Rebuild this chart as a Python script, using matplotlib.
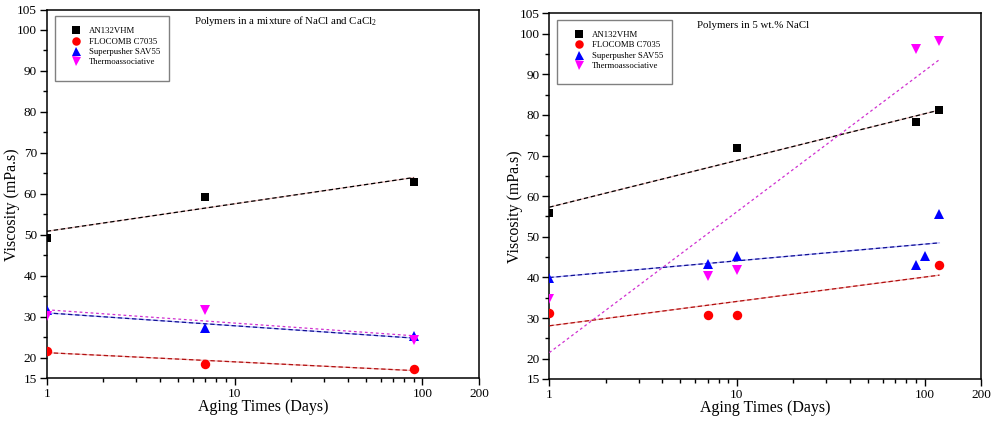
import numpy as np
import matplotlib
matplotlib.use("Agg")
import matplotlib.pyplot as plt
from matplotlib.patches import Rectangle
from matplotlib.lines import Line2D

plt.rcParams['font.family'] = ['Liberation Serif', 'DejaVu Serif']
plt.rcParams['mathtext.fontset'] = 'custom'
plt.rcParams['mathtext.rm'] = 'Liberation Serif'
plt.rcParams['mathtext.it'] = 'Liberation Serif:italic'

# ---------------- data ----------------
series_names = ["AN132VHM", "FLOCOMB C7035", "Superpusher SAV55", "Thermoassociative"]

# Left panel: polymers in a mixture of NaCl and CaCl2
left_an_x = [1, 7, 90]
left_an_y = [49.3, 59.2, 62.8]
left_floc_x = [1, 7, 90]
left_floc_y = [21.7, 18.4, 17.2]
left_sav_x = [1, 7, 90]
left_sav_y = [31.5, 27.2, 25.2]
left_thermo_x = [1, 7, 90]
left_thermo_y = [30.2, 31.5, 24.2]

# Right panel: polymers in 5 wt.% NaCl
right_an_x = [1, 10, 90, 120]
right_an_y = [55.8, 71.8, 78.3, 81.1]
right_floc_x = [1, 7, 10, 120]
right_floc_y = [31.2, 30.8, 30.8, 43.1]
right_sav_x = [1, 7, 10, 90, 100, 120]
right_sav_y = [39.9, 43.2, 45.3, 43.0, 45.3, 55.5]
right_thermo_x = [1, 7, 10, 90, 120]
right_thermo_y = [34.7, 40.4, 41.8, 96.2, 98.2]

y_major_ticks = [15, 20, 30, 40, 50, 60, 70, 80, 90, 100, 105]
y_minor_ticks = [25, 35, 45, 55, 65, 75, 85, 95]
x_major_ticks = [1, 10, 100, 200]
x_tick_labels = ["1", "10", "100", "200"]

titles = ["Polymers in a mixture of NaCl and CaCl$_\\mathrm{2}$", "Polymers in 5 wt.% NaCl"]

# ---------------- styles ----------------
marker_styles = [
    dict(marker='s', color='#000000', ms=6.2),
    dict(marker='o', color='#ff0000', ms=6.8),
    dict(marker='^', color='#0000ff', ms=7.2),
    dict(marker='v', color='#ff00ff', ms=7.2),
]
fit_styles = [
    ('#ecbcbc', '#000000'),
    ('#f4b0b0', '#b01010'),
    ('#b0b0ff', '#101090'),
    (None, '#d030d0'),
]

fig = plt.figure(figsize=(10, 4.28), dpi=100)
ax_left = fig.add_axes([0.0467, 0.1168, 0.4323, 0.861])
ax_right = fig.add_axes([0.5493, 0.1145, 0.4317, 0.8544])

panels = [
    (ax_left, [(left_an_x, left_an_y), (left_floc_x, left_floc_y),
               (left_sav_x, left_sav_y), (left_thermo_x, left_thermo_y)], titles[0], (0.553, 0.969)),
    (ax_right, [(right_an_x, right_an_y), (right_floc_x, right_floc_y),
                (right_sav_x, right_sav_y), (right_thermo_x, right_thermo_y)], titles[1], (0.473, 0.968)),
]

for ax, data, title, tpos in panels:
    ax.set_xscale('log')
    ax.set_xlim(1, 200)
    ax.set_ylim(15, 105)
    # fitted lines (linear in log10 of time)
    for i, (xs, ys) in enumerate(data):
        xs = np.asarray(xs, float)
        ys = np.asarray(ys, float)
        k, b = np.polyfit(np.log10(xs), ys, 1)
        xx = np.array([xs.min(), xs.max()])
        yy = k * np.log10(xx) + b
        under, over = fit_styles[i]
        if under is not None:
            ax.plot(xx, yy, '-', color=under, lw=0.9, zorder=2)
        dashes = (3.5, 2.2) if i != 3 else (2.2, 2.2)
        ax.plot(xx, yy, '--', color=over, lw=0.9, dashes=dashes, zorder=3)
    for i, (xs, ys) in enumerate(data):
        st = marker_styles[i]
        ax.plot(xs, ys, linestyle='none', marker=st['marker'], color=st['color'],
                markersize=st['ms'], markeredgewidth=0, zorder=4)

    ax.set_yticks(y_major_ticks)
    ax.set_yticks(y_minor_ticks, minor=True)
    ax.set_xticks(x_major_ticks)
    ax.set_xticklabels(x_tick_labels)
    ax.tick_params(axis='both', which='major', direction='out', length=5, width=1,
                   labelsize=9.5, pad=2, top=False, right=False)
    ax.tick_params(axis='both', which='minor', direction='out', length=3, width=1,
                   top=False, right=False)
    ax.tick_params(axis='x', which='minor', labelbottom=False)
    for s in ax.spines.values():
        s.set_linewidth(1.1)
    ax.set_xlabel("Aging Times (Days)", fontsize=11.5)
    ax.xaxis.set_label_coords(0.5, -0.058)
    ax.set_ylabel("Viscosity (mPa.s)", fontsize=11.5)
    ax.yaxis.set_label_coords(-0.062, 0.47)
    ax.text(tpos[0], tpos[1], title, transform=ax.transAxes, ha='center', va='center',
            fontsize=7.8)

    # legend box
    ax.add_patch(Rectangle((0.0185, 0.807), 0.265, 0.175, transform=ax.transAxes,
                           fill=False, edgecolor='#808080', lw=1.0, zorder=5))
    handles = [Line2D([], [], linestyle='none', marker=st['marker'], color=st['color'],
                      markersize=st['ms'] * 0.9, markeredgewidth=0) for st in marker_styles]
    ax.legend(handles, series_names, loc='upper left', bbox_to_anchor=(0.058, 0.952),
              frameon=False, fontsize=6.3, borderpad=0, borderaxespad=0, handlelength=1.0,
              handletextpad=1.0, labelspacing=0.25)

fig.savefig("out.png", dpi=100)
